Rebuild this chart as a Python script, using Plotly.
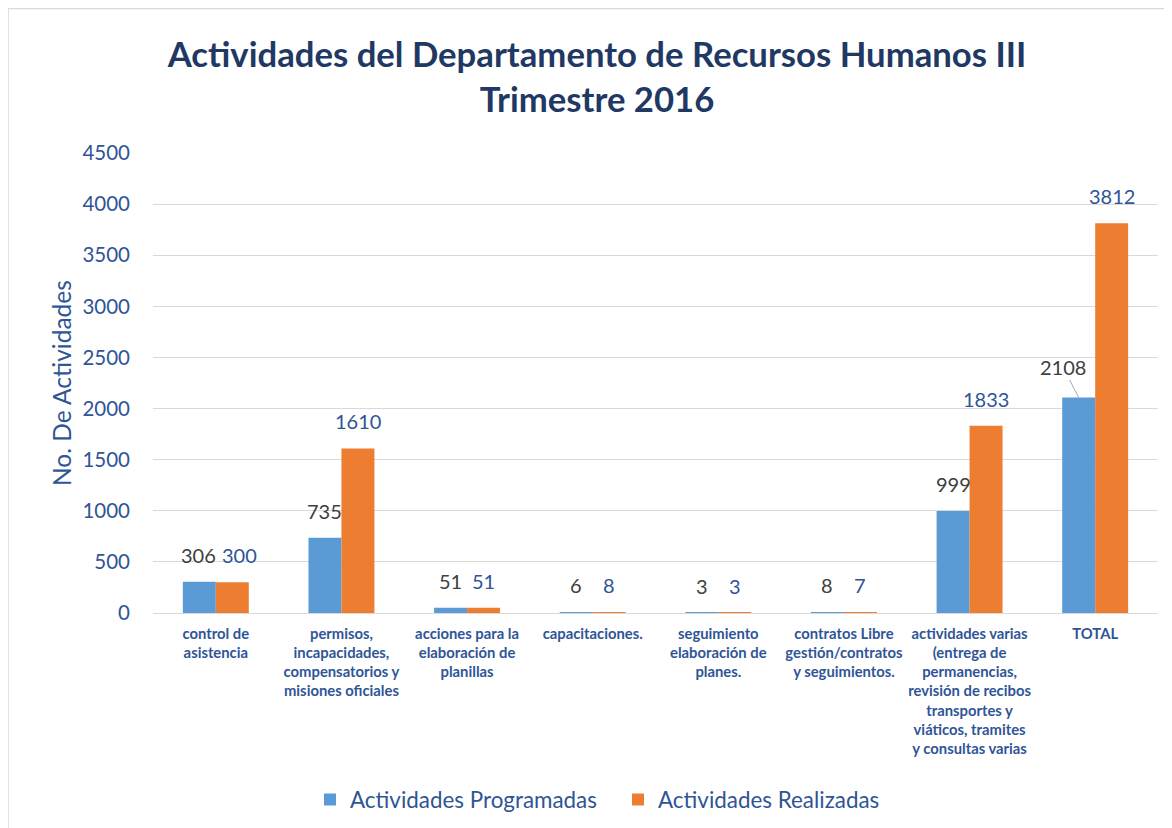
import plotly.graph_objects as go

categories = [
    "control de<br>asistencia",
    "permisos,<br>incapacidades,<br>compensatorios y<br>misiones oficiales",
    "acciones para la<br>elaboración de<br>planillas",
    "capacitaciones.",
    "seguimiento<br>elaboración de<br>planes.",
    "contratos Libre<br>gestión/contratos<br>y seguimientos.",
    "actividades varias<br>(entrega de<br>permanencias,<br>revisión de recibos<br>transportes y<br>viáticos, tramites<br>y consultas varias",
    "TOTAL",
]
programadas = [306, 735, 51, 6, 3, 8, 999, 2108]
realizadas = [300, 1610, 51, 8, 3, 7, 1833, 3812]
series_names = ["Actividades Programadas", "Actividades Realizadas"]
tick_values = [0, 500, 1000, 1500, 2000, 2500, 3000, 3500, 4000, 4500]

FONT = "Lato"
BLUE = "#5B9BD5"
ORANGE = "#ED7D31"
TXT_BLUE = "#2F5597"
TXT_GRAY = "#404040"
NAVY = "#1F3864"

OFF = 8  # page body margin
W, H = 1172 - OFF, 828 - OFF
L, T = 153 - OFF, 153 - OFF
R = W - (1158 - OFF)
B = H - (613 - OFF)
pw, ph = W - L - R, H - T - B

fig = go.Figure()
fig.add_trace(go.Bar(x=categories, y=programadas, name=series_names[0],
                     marker=dict(color=BLUE, line=dict(width=0))))
fig.add_trace(go.Bar(x=categories, y=realizadas, name=series_names[1],
                     marker=dict(color=ORANGE, line=dict(width=0))))

annotations = []
half = 16.5
for i, c in enumerate(categories):
    if c == "TOTAL":
        annotations.append(dict(x=c, y=programadas[i], xref="x", yref="y",
                                text=str(programadas[i]), showarrow=True,
                                arrowhead=0, arrowwidth=1, arrowcolor="#A6A6A6",
                                ax=-16, ay=-31, xshift=-half,
                                font=dict(family=FONT, size=20, color=TXT_GRAY)))
    else:
        extra = -1 if i == 0 else 0
        annotations.append(dict(x=c, y=programadas[i], xref="x", yref="y",
                                text=str(programadas[i]), showarrow=False,
                                xshift=-half + extra, yshift=27, yanchor="middle",
                                font=dict(family=FONT, size=20, color=TXT_GRAY)))
    extra = 7 if i == 0 else 0
    annotations.append(dict(x=c, y=realizadas[i], xref="x", yref="y",
                            text=str(realizadas[i]), showarrow=False,
                            xshift=half + extra, yshift=27, yanchor="middle",
                            font=dict(family=FONT, size=20, color=TXT_BLUE)))

annotations.append(dict(text="No. De Actividades", textangle=-90, showarrow=False,
                        xref="paper", yref="paper", x=(61 - OFF - L) / pw, y=0.5,
                        xanchor="center", yanchor="middle",
                        font=dict(family=FONT, size=24.5, color=TXT_BLUE)))

shapes = [dict(type="rect", xref="paper", yref="paper",
               x0=(8 - OFF - L) / pw, x1=(1200 - OFF - L) / pw,
               y0=(T + ph - 860) / ph, y1=(T + ph - (8 - OFF) - 0.5) / ph,
               line=dict(color="#D9D9D9", width=1.5), fillcolor="rgba(0,0,0,0)",
               layer="below")]

fig.update_layout(
    width=W, height=H,
    margin=dict(l=L, r=R, t=T, b=B, autoexpand=False),
    paper_bgcolor="white", plot_bgcolor="white",
    barmode="group", bargap=0.475, bargroupgap=0,
    title=dict(text="<b>Actividades del Departamento de Recursos Humanos III<br>Trimestre 2016</b>",
               x=(597 - OFF) / W, xanchor="center", xref="container",
               y=1 - (67 - OFF) / H, yanchor="middle", yref="container",
               font=dict(family=FONT, size=34.7, color=NAVY)),
    xaxis=dict(showgrid=False, showline=True, linecolor="#D9D9D9", linewidth=1,
               ticks="", tickangle=0, ticklabelstandoff=7,
               tickfont=dict(family=FONT, size=14.8, color=TXT_BLUE, weight="bold")),
    yaxis=dict(range=[0, 4500], tickvals=tick_values, showgrid=True,
               gridcolor="#D9D9D9", gridwidth=1, zeroline=False, showline=False,
               ticklabelstandoff=22,
               tickfont=dict(family=FONT, size=20.5, color=TXT_BLUE)),
    legend=dict(orientation="h", xref="container", yref="container",
                x=(618 - OFF) / W, xanchor="center", y=1 - (800 - OFF) / H, yanchor="middle",
                font=dict(family=FONT, size=22.4, color=TXT_BLUE),
                itemwidth=30, traceorder="normal", entrywidthmode="pixels",
                entrywidth=263),
    annotations=annotations,
    shapes=shapes,
    showlegend=True,
)

fig.write_html("out.html")
